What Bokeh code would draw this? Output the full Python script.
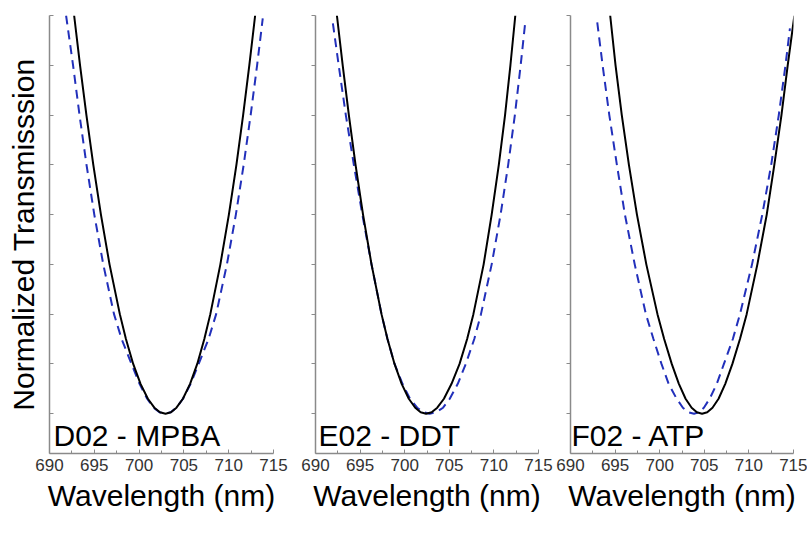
from bokeh.plotting import figure
from bokeh.models import Range1d, FixedTicker, Label
from bokeh.layouts import row
from bokeh.embed import file_html
from bokeh.resources import INLINE

# ---------------- data ----------------
panel_names = ["D02 - MPBA", "E02 - DDT", "F02 - ATP"]
x_major = [690, 695, 700, 705, 710, 715]
x_minor = [692.5, 697.5, 702.5, 707.5, 712.5]
y_ticks = [0, 0.5, 1, 1.5, 2, 2.5, 3, 3.5, 4]   # unlabelled tick marks

# normalized-transmission levels at which both flanks of every curve were read
levels = [3.5, 3.0, 2.5, 2.0, 1.5, 1.0, 0.75, 0.5, 0.3, 0.15, 0.06, 0.015]

# D02 - MPBA
d02_black_left = [693.41, 694.12, 694.89, 695.74, 696.70, 697.85, 698.53, 699.34, 700.16, 700.98, 701.70, 702.33]
d02_black_right = [712.30, 711.61, 710.86, 710.02, 709.07, 707.95, 707.28, 706.49, 705.69, 704.89, 704.17, 703.56]
d02_black_min = 702.95
d02_black_ends = [692.75, 4.0, 712.95, 4.0]
d02_blue_left = [692.63, 693.35, 694.13, 695.0, 696.0, 697.2, 698.05, 699.15, 700.05, 700.9, 701.63, 702.27]
d02_blue_right = [713.17, 712.45, 711.67, 710.8, 709.8, 708.6, 707.75, 706.65, 705.75, 704.9, 704.17, 703.53]
d02_blue_min = 702.9
d02_blue_ends = [691.85, 4.0, 713.8, 3.97]

# E02 - DDT
e02_black_left = [693.05, 693.74, 694.49, 695.33, 696.28, 697.4, 698.07, 698.86, 699.66, 700.46, 701.18, 701.79]
e02_black_right = [711.85, 711.25, 710.55, 709.75, 708.85, 707.7, 707.0, 706.15, 705.25, 704.4, 703.65, 703.02]
e02_black_min = 702.4
e02_black_ends = [692.4, 4.0, 712.4, 4.0]
e02_blue_left = [692.6, 693.4, 694.3, 695.25, 696.28, 697.4, 698.07, 698.86, 699.75, 700.6, 701.4, 702.1]
e02_blue_right = [713.0, 712.35, 711.6, 710.75, 709.75, 708.55, 707.8, 706.85, 705.95, 705.05, 704.3, 703.55]
e02_blue_min = 702.8
e02_blue_ends = [691.95, 3.92, 713.5, 3.92]

# F02 - ATP
f02_black_left = [695.05, 695.75, 696.55, 697.45, 698.5, 699.75, 700.5, 701.35, 702.15, 702.9, 703.58, 704.17]
f02_black_right = [714.35, 713.65, 712.85, 712.0, 710.95, 709.75, 709.0, 708.15, 707.35, 706.6, 705.92, 705.33]
f02_black_min = 704.75
f02_black_ends = [694.45, 4.0, 715.1, 4.0]
f02_blue_left = [693.6, 694.35, 695.2, 696.1, 697.2, 698.45, 699.3, 700.2, 701.0, 701.9, 702.6, 703.2]
f02_blue_right = [714.1, 713.35, 712.5, 711.5, 710.35, 709.0, 708.2, 707.2, 706.4, 705.6, 704.95, 704.4]
f02_blue_min = 703.85
f02_blue_ends = [693.0, 3.93, 714.6, 3.87]

# ---------------- styling ----------------
FONT = "Liberation Sans"
AXIS_COLOR = "#8a8a8a"
BLUE = "#2230bb"


def curve(left, right, lam_min, ends):
    xs = [ends[0]] + left + [lam_min] + right[::-1] + [ends[2]]
    ys = [ends[1]] + levels + [0.0] + levels[::-1] + [ends[3]]
    return xs, ys


def make_panel(name, black, blue, frame_w, bl, br, ylabel, ticks_in, label_dx):
    p = figure(frame_width=frame_w, frame_height=438,
               x_range=Range1d(690, 715), y_range=Range1d(-0.4, 4.0),
               output_backend="svg", toolbar_location=None,
               min_border_left=bl, min_border_right=br,
               min_border_top=15, min_border_bottom=60)
    p.outline_line_color = None
    p.grid.visible = False
    p.background_fill_color = "white"
    p.border_fill_color = "white"

    bx, by = curve(*black)
    ux, uy = curve(*blue)
    p.line(ux, uy, line_color=BLUE, line_width=2, line_dash="9 6")
    p.line(bx, by, line_color="black", line_width=2)

    xa = p.xaxis[0]
    xa.ticker = FixedTicker(ticks=x_major, minor_ticks=x_minor)
    xa.axis_line_color = AXIS_COLOR
    xa.axis_line_width = 1.5
    xa.major_tick_line_color = AXIS_COLOR
    xa.minor_tick_line_color = AXIS_COLOR
    xa.major_tick_in = 4
    xa.major_tick_out = 0
    xa.minor_tick_in = 3
    xa.minor_tick_out = 0
    xa.major_label_standoff = 5
    xa.major_label_text_font = FONT
    xa.major_label_text_font_size = "17px"
    xa.major_label_text_color = "#333333"
    xa.axis_label = "Wavelength (nm)"
    xa.axis_label_text_font = FONT
    xa.axis_label_text_font_size = "30px"
    xa.axis_label_text_font_style = "normal"
    xa.axis_label_text_color = "black"
    xa.axis_label_standoff = 5

    ya = p.yaxis[0]
    ya.ticker = FixedTicker(ticks=[], minor_ticks=y_ticks)
    ya.axis_line_color = AXIS_COLOR
    ya.axis_line_width = 1.5
    ya.major_tick_line_color = None
    ya.minor_tick_line_color = AXIS_COLOR
    if ticks_in:
        ya.minor_tick_in, ya.minor_tick_out = 4, 0
    else:
        ya.minor_tick_in, ya.minor_tick_out = 0, 4
    ya.major_tick_in, ya.major_tick_out = 0, 0
    ya.major_label_standoff = 0
    if ylabel:
        ya.axis_label = ylabel
        ya.axis_label_text_font = FONT
        ya.axis_label_text_font_size = "30px"
        ya.axis_label_text_font_style = "normal"
        ya.axis_label_text_color = "black"
        ya.axis_label_standoff = 10

    p.add_layout(Label(x=690, y=-0.385, x_offset=label_dx, text=name,
                       text_font=FONT, text_font_size="30px",
                       text_color="black", text_baseline="bottom",
                       text_align="left"))
    return p


p1 = make_panel(panel_names[0],
                (d02_black_left, d02_black_right, d02_black_min, d02_black_ends),
                (d02_blue_left, d02_blue_right, d02_blue_min, d02_blue_ends),
                224, 49, 16, "Normalized Transmisssion", True, 4)
p2 = make_panel(panel_names[1],
                (e02_black_left, e02_black_right, e02_black_min, e02_black_ends),
                (e02_blue_left, e02_blue_right, e02_blue_min, e02_blue_ends),
                223, 26, 16, None, False, 3)
p3 = make_panel(panel_names[2],
                (f02_black_left, f02_black_right, f02_black_min, f02_black_ends),
                (f02_blue_left, f02_blue_right, f02_blue_min, f02_blue_ends),
                223, 16, 14, None, False, 1)

layout = row(p1, p2, p3)
open("out.html", "w").write(file_html(layout, INLINE))
